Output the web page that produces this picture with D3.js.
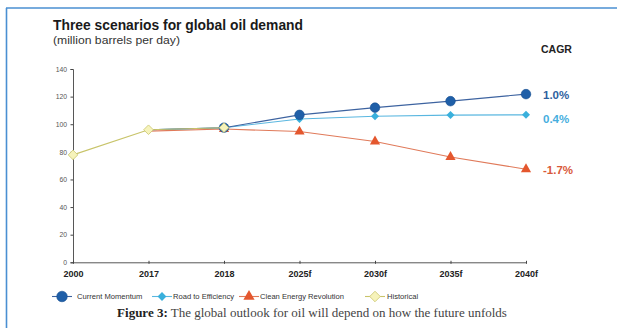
<!DOCTYPE html>
<html>
<head>
<meta charset="utf-8">
<script src="https://cdn.jsdelivr.net/npm/d3@7"></script>
<style>
  html, body { margin: 0; padding: 0; background: #fff; }
  svg { display: block; }
</style>
</head>
<body>
<svg id="chart" width="617" height="328"></svg>
<script>
// Oil demand scenarios, million barrels per day
const years = ["2000", "2017", "2018", "2025f", "2030f", "2035f", "2040f"];
const historical = [77.8, 96, 97.5, null, null, null, null];
const currentMomentum = [null, 96, 97.5, 106.8, 112, 116.7, 121.8];
const roadToEfficiency = [null, 96, 97.5, 103.8, 105.8, 106.6, 106.8];
const cleanEnergy = [null, 95, 96.5, 94.7, 87.5, 76.3, 67.4];
const yTicks = [0, 20, 40, 60, 80, 100, 120, 140];
const cagrLabels = ["1.0%", "0.4%", "-1.7%"];

const FONT = "Liberation Sans, Arial, sans-serif";

const series = [
  { name: "Current Momentum", values: currentMomentum, color: "#1f5fa8", line: "#3d63a0", shape: "circle", cagr: cagrLabels[0], labelColor: "#2f5f9e", labelDy: 4.5 },
  { name: "Road to Efficiency", values: roadToEfficiency, color: "#3ab0dc", line: "#5ab7e0", shape: "diamond", cagr: cagrLabels[1], labelColor: "#45aede", labelDy: 8 },
  { name: "Clean Energy Revolution", values: cleanEnergy, color: "#e4572e", line: "#e07a5a", shape: "triangle", cagr: cagrLabels[2], labelColor: "#d9593a", labelDy: 4.5 },
  { name: "Historical", values: historical, color: "#f6f3bb", line: "#c8c46a", shape: "diamondH", cagr: null }
];

const svg = d3.select("#chart");

// Frame
svg.append("line").attr("x1", 6).attr("x2", 617).attr("y1", 8).attr("y2", 8)
  .attr("stroke", "#4a8fd2").attr("stroke-width", 1.6);
svg.append("line").attr("x1", 6.5).attr("x2", 6.5).attr("y1", 8).attr("y2", 328)
  .attr("stroke", "#4a8fd2").attr("stroke-width", 1.6);

// Titles
svg.append("text").attr("x", 53).attr("y", 29.5)
  .attr("font-family", FONT).attr("font-weight", "bold")
  .attr("font-size", 15).attr("fill", "#1a1a1a")
  .attr("textLength", 250).attr("lengthAdjust", "spacingAndGlyphs")
  .text("Three scenarios for global oil demand");
svg.append("text").attr("x", 53).attr("y", 43.5)
  .attr("font-family", FONT)
  .attr("font-size", 11.5).attr("fill", "#333")
  .attr("textLength", 127).attr("lengthAdjust", "spacingAndGlyphs")
  .text("(million barrels per day)");
svg.append("text").attr("x", 541).attr("y", 53)
  .attr("font-family", FONT).attr("font-weight", "bold")
  .attr("font-size", 10.5).attr("fill", "#222").text("CAGR");

// Scales
const x = d3.scalePoint().domain(years).range([73, 526]);
const y = d3.scaleLinear().domain([0, 140]).range([262.3, 69]);

// Y axis
const yAxis = svg.append("g").attr("transform", "translate(73,0)")
  .call(d3.axisLeft(y).tickValues(yTicks).tickSize(2.5).tickPadding(3.5));
yAxis.select(".domain").attr("stroke", "#444").attr("stroke-width", 0.9);
yAxis.selectAll(".tick line").attr("stroke", "#444");
yAxis.selectAll("text").attr("font-family", FONT)
  .attr("font-size", 6.8).attr("fill", "#555");

// X axis
const xAxis = svg.append("g").attr("transform", `translate(0,${y(0)})`)
  .call(d3.axisBottom(x).tickSize(0).tickPadding(7));
xAxis.select(".domain").attr("stroke", "#444").attr("stroke-width", 0.9);
xAxis.selectAll(".tick").append("line").attr("y1", -1.5).attr("y2", 1.5).attr("stroke", "#444");
xAxis.selectAll("text").attr("font-family", FONT)
  .attr("font-weight", "bold").attr("font-size", 9).attr("fill", "#222")
  .attr("dy", "0.9em");

// Marker shapes
const diamondPath = h => `M0,${-h}L${h},0L0,${h}L${-h},0Z`;
function marker(g, shape, color, k) {
  if (shape === "circle") {
    g.append("circle").attr("r", 4.8 * k).attr("fill", color).attr("stroke", "#174f91").attr("stroke-width", 0.6);
  } else if (shape === "diamond") {
    g.append("path").attr("d", diamondPath(4 * k)).attr("fill", color);
  } else if (shape === "triangle") {
    g.append("path").attr("d", d3.symbol(d3.symbolTriangle, 45 * k * k)()).attr("fill", color);
  } else {
    g.append("path").attr("d", diamondPath(4.8 * k))
      .attr("fill", color).attr("stroke", "#cfcb78").attr("stroke-width", 0.9);
  }
}

const line = d3.line().defined(d => d != null).x((d, i) => x(years[i])).y(d => y(d));

// Draw series, back to front so historical sits on top
const order = [2, 1, 0, 3];
order.forEach(si => {
  const s = series[si];
  svg.append("path").datum(s.values).attr("d", line)
    .attr("fill", "none").attr("stroke", s.line).attr("stroke-width", 1.1);
});
order.forEach(si => {
  const s = series[si];
  s.values.forEach((v, i) => {
    if (v == null) return;
    if (si !== 3 && i < 2) return;
    const g = svg.append("g").attr("transform", `translate(${x(years[i])},${y(v)})`);
    marker(g, s.shape, s.color, 1);
  });
});

// CAGR labels beside the 2040 values
series.filter(s => s.cagr).forEach(s => {
  const v = s.values[s.values.length - 1];
  svg.append("text").attr("x", 543).attr("y", y(v) + s.labelDy)
    .attr("font-family", FONT).attr("font-weight", "bold")
    .attr("font-size", 11.5).attr("fill", s.labelColor)
    .text(s.cagr);
});

// Legend
const legendPos = [{ mx: 62, tx: 77 }, { mx: 162, tx: 173 }, { mx: 249, tx: 260 }, { mx: 375, tx: 387 }];
series.forEach((s, i) => {
  const p = legendPos[i];
  const ly = 296.5;
  svg.append("line").attr("x1", p.mx - 10).attr("x2", p.mx + 10).attr("y1", ly).attr("y2", ly)
    .attr("stroke", s.line).attr("stroke-width", 1.1);
  const g = svg.append("g").attr("transform", `translate(${p.mx},${ly})`);
  marker(g, s.shape, s.color, 1.1);
  svg.append("text").attr("x", p.tx).attr("y", ly + 2.7)
    .attr("font-family", FONT)
    .attr("font-size", 7.6).attr("fill", "#333").text(s.name);
});

// Caption
const cap = svg.append("text").attr("x", 312).attr("y", 317).attr("text-anchor", "middle")
  .attr("font-family", "Liberation Serif, Times New Roman, serif").attr("font-size", 13).attr("fill", "#444");
cap.append("tspan").attr("font-weight", "bold").attr("fill", "#222").text("Figure 3:");
cap.append("tspan").text(" The global outlook for oil will depend on how the future unfolds");
</script>
</body>
</html>
